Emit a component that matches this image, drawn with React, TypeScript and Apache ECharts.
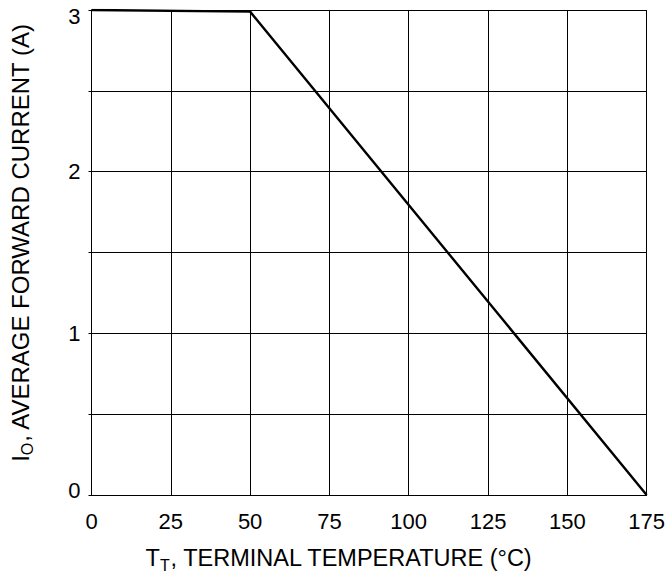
import React, { useEffect, useRef } from "react";
import * as echarts from "echarts";

const temperature: number[] = [0, 50, 175];
const current: number[] = [3.0, 2.99, 0];
const xTicks: number[] = [0, 25, 50, 75, 100, 125, 150, 175];
const yLabelValues: number[] = [0, 1, 2, 3];

const FONT = "'Liberation Sans', Arial, sans-serif";

export default function App() {
  const ref = useRef<HTMLDivElement>(null);
  useEffect(() => {
    if (!ref.current) return;
    const chart = echarts.init(ref.current, undefined, { renderer: "svg" });
    const data = temperature.map((t, i) => [t, current[i]]);
    chart.setOption({
      animation: false,
      backgroundColor: "#ffffff",
      grid: { left: 89, right: 12, top: 10, bottom: 80, show: false },
      xAxis: {
        type: "value",
        min: 0,
        max: 175,
        interval: 25,
        name: "{m|T}{s|T}{m|, TERMINAL TEMPERATURE (°C)}",
        nameLocation: "middle",
        nameGap: 47,
        nameTextStyle: {
          padding: [0, 60, 0, 0],
          rich: {
            m: { fontFamily: FONT, fontSize: 23.5, color: "#000" },
            s: { fontFamily: FONT, fontSize: 16, color: "#000", verticalAlign: "bottom", padding: [15, 0, 0, 0] },
          },
        },
        axisLine: { show: true, lineStyle: { color: "#000", width: 1 } },
        axisTick: { show: false },
        axisLabel: {
          color: "#000",
          fontFamily: FONT,
          fontSize: 22,
          margin: 15,
          formatter: (v: number) => (xTicks.includes(v) ? String(v) : ""),
        },
        splitLine: { show: true, lineStyle: { color: "#000", width: 1 } },
      },
      yAxis: {
        type: "value",
        min: 0,
        max: 3,
        interval: 0.5,
        name: "{m|I}{s|O}{m|, AVERAGE FORWARD CURRENT (A)}",
        nameLocation: "middle",
        nameRotate: 90,
        nameGap: 56,
        nameTextStyle: {
          padding: [0, 0, 0, 20],
          rich: {
            m: { fontFamily: FONT, fontSize: 24, color: "#000" },
            s: { fontFamily: FONT, fontSize: 16, color: "#000", verticalAlign: "bottom", padding: [15, 0, 0, 0] },
          },
        },
        axisLine: { show: true, lineStyle: { color: "#000", width: 1 } },
        axisTick: { show: true, inside: false, length: 3, lineStyle: { color: "#000" } },
        axisLabel: {
          color: "#000",
          fontFamily: FONT,
          fontSize: 22,
          margin: 11,
          formatter: (v: number) => {
            if (!yLabelValues.includes(v)) return "";
            if (v === 3) return "{top|" + v + "}";
            if (v === 0) return "{bot|" + v + "}";
            return String(v);
          },
          rich: {
            top: { fontFamily: FONT, fontSize: 22, color: "#000", padding: [12, 0, 0, 0] },
            bot: { fontFamily: FONT, fontSize: 22, color: "#000", padding: [0, 0, 10, 0] },
          },
        },
        splitLine: { show: true, lineStyle: { color: "#000", width: 1 } },
      },
      series: [
        {
          type: "line",
          data,
          symbol: "none",
          lineStyle: { color: "#000", width: 2.4 },
        },
      ],
    });
    return () => chart.dispose();
  }, []);
  return <div ref={ref} style={{ width: 668, height: 578, position: "absolute", left: 0, top: 0 }} />;
}
